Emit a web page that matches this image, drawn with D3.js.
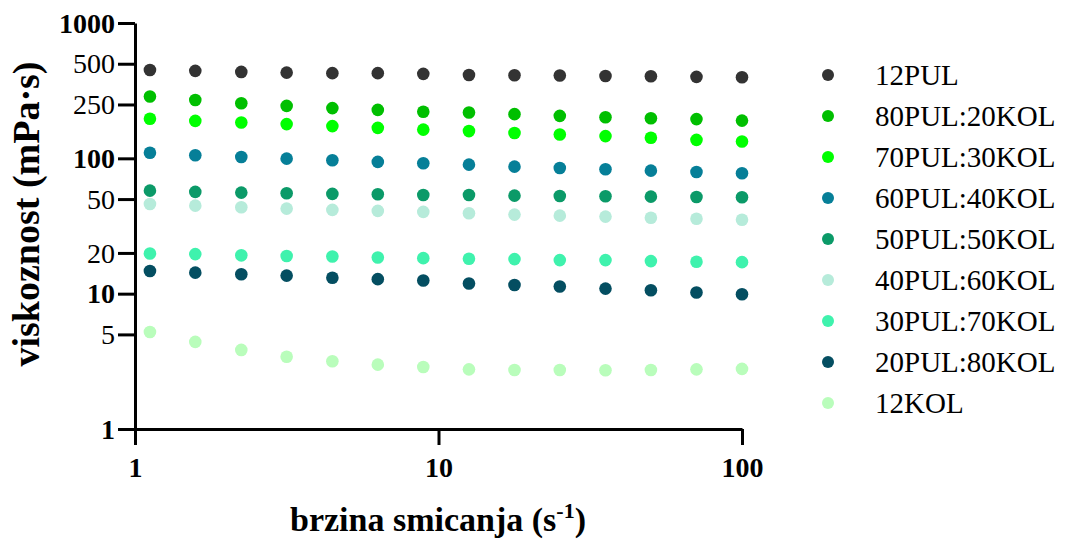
<!DOCTYPE html>
<html><head><meta charset="utf-8">
<script src="https://cdn.jsdelivr.net/npm/d3@7"></script>
<style>
body{margin:0;background:#fff;}
svg{display:block;}
text{font-family:"Liberation Serif","Times New Roman",serif;fill:#000;}
</style></head>
<body><svg id="chart" width="1066" height="539"></svg>
<script>
const shearRates = [1.12, 1.58, 2.24, 3.16, 4.47, 6.31, 8.91, 12.6, 17.8, 25.1, 35.5, 50.1, 70.8, 100];
const seriesNames = ["12PUL","80PUL:20KOL","70PUL:30KOL","60PUL:40KOL","50PUL:50KOL","40PUL:60KOL","30PUL:70KOL","20PUL:80KOL","12KOL"];
const seriesColors = ["#333333","#00bf00","#00ff00","#067f98","#0b9a68","#b6ebda","#3ff2ad","#044e61","#b9fdbb"];
const v12PUL   = [450, 443, 435, 430, 426, 426, 421, 413, 411, 409, 406, 404, 400, 397];
const v80_20   = [286, 270, 255, 244, 235, 228, 221, 218, 212, 206, 201, 198, 195, 190];
const v70_30   = [196, 189, 184, 179, 173, 168, 163, 159, 154, 150, 146, 142, 137, 133];
const v60_40   = [110, 105.4, 102.4, 99.5, 96.8, 94.1, 92.0, 89.8, 86.8, 84.9, 83.1, 81.1, 79.3, 77.6];
const v50_50   = [57.7, 56.5, 55.8, 55.2, 54.6, 54.3, 53.6, 53.6, 53.0, 52.7, 52.5, 52.1, 51.8, 51.6];
const v40_60   = [46.0, 44.7, 43.5, 42.5, 41.6, 40.9, 40.2, 39.3, 38.4, 37.7, 37.1, 36.4, 35.8, 35.2];
const v30_70   = [19.8, 19.6, 19.2, 19.0, 18.8, 18.5, 18.3, 18.1, 18.0, 17.7, 17.7, 17.4, 17.2, 17.1];
const v20_80   = [14.7, 14.3, 13.9, 13.6, 13.1, 12.8, 12.5, 11.9, 11.6, 11.3, 10.9, 10.6, 10.2, 9.9];
const v12KOL   = [5.21, 4.40, 3.84, 3.42, 3.17, 2.99, 2.87, 2.76, 2.73, 2.73, 2.72, 2.73, 2.76, 2.78];
const seriesValues = [v12PUL, v80_20, v70_30, v60_40, v50_50, v40_60, v30_70, v20_80, v12KOL];
const xTicks = [1, 10, 100];
const yTicks = [1, 5, 10, 20, 50, 100, 250, 500, 1000];
const yBoldTicks = [1, 10, 100, 1000];
const xTitle = "brzina smicanja (s";
const xTitleSup = "-1";
const yTitle = "viskoznost (mPa·s)";

const svg = d3.select("#chart");
const x = d3.scaleLog().domain([1, 100]).range([135, 742]);
const y = d3.scaleLog().domain([1, 1000]).range([429, 23]);

// points
seriesValues.forEach((vals, si) => {
  svg.append("g").selectAll("circle")
    .data(vals.map((v, i) => ({x: shearRates[i], y: v})))
    .join("circle")
    .attr("cx", d => x(d.x))
    .attr("cy", d => y(d.y))
    .attr("r", 6.3)
    .attr("fill", seriesColors[si]);
});

// axes
const gx = svg.append("g").attr("transform", `translate(0,${y(1)})`)
  .call(d3.axisBottom(x).tickValues(xTicks).tickFormat(d3.format("d")).tickSizeInner(16).tickSizeOuter(0).tickPadding(12));
const gy = svg.append("g").attr("transform", `translate(${x(1)},0)`)
  .call(d3.axisLeft(y).tickValues(yTicks).tickFormat(d3.format("d")).tickSizeInner(17).tickSizeOuter(0).tickPadding(3));
[gx, gy].forEach(g => {
  g.select(".domain").attr("stroke", "#000").attr("stroke-width", 3);
  g.selectAll(".tick line").attr("stroke", "#000").attr("stroke-width", 3);
  g.selectAll(".tick text").attr("fill", "#000").style("font-size", "28px")
    .style("font-family", '"Liberation Serif","Times New Roman",serif');
});
gx.selectAll(".tick text").style("font-weight", "bold");
gy.selectAll(".tick text").style("font-weight", d => yBoldTicks.includes(d) ? "bold" : "normal");
gy.selectAll(".tick text").attr("dy", "0.33em");

// titles
const xt = svg.append("text").attr("x", 438).attr("y", 531).attr("text-anchor", "middle")
  .style("font-size", "34px").style("font-weight", "bold");
xt.append("tspan").text(xTitle);
xt.append("tspan").text(xTitleSup).attr("dy", -13).style("font-size", "22px");
xt.append("tspan").text(")").attr("dy", 13);

svg.append("text").attr("transform", "translate(39,214) rotate(-90)").attr("text-anchor", "middle")
  .style("font-size", "38px").style("font-weight", "bold").text(yTitle);

// legend
const lg = svg.append("g");
seriesNames.forEach((n, i) => {
  const yy = 75 + i * 41;
  lg.append("circle").attr("cx", 828).attr("cy", yy).attr("r", 6).attr("fill", seriesColors[i]);
  lg.append("text").attr("x", 875).attr("y", yy).attr("dy", "0.35em").style("font-size", "29px").text(n);
});
</script></body></html>
